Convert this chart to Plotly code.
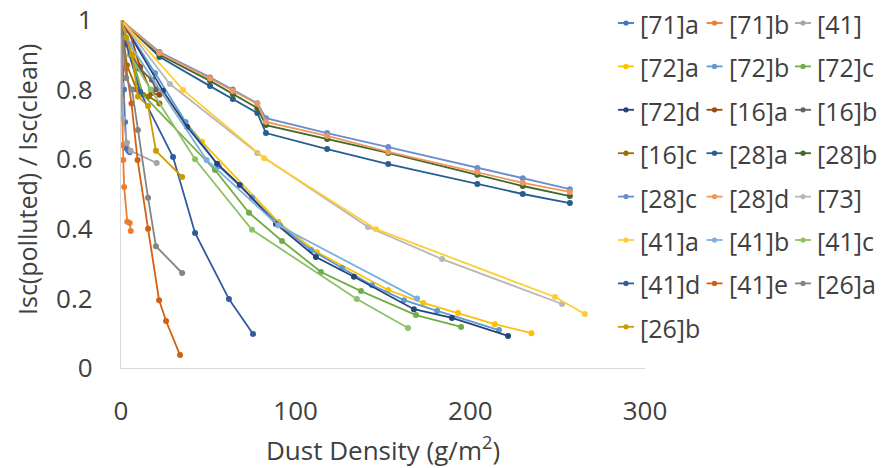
import plotly.graph_objects as go

# ---- data ----
names = ["[71]a", "[71]b", "[41]", "[72]a", "[72]b", "[72]c", "[72]d", "[16]a",
         "[16]b", "[16]c", "[28]a", "[28]b", "[28]c", "[28]d", "[73]", "[41]a",
         "[41]b", "[41]c", "[41]d", "[41]e", "[26]a", "[26]b"]

colors = ["#4472C4", "#ED7D31", "#A5A5A5", "#FFC000", "#5B9BD5", "#70AD47",
          "#264478", "#9E480E", "#636363", "#997300", "#255E91", "#43682B",
          "#698ED0", "#F1975A", "#B7B7B7", "#FFCD33", "#7CAFDD", "#8CC168",
          "#325AA1", "#D26012", "#848484", "#CC9A00"]

x_71a = [0, 0.5, 1.7, 2.3, 3.3, 4.2, 5.0]
y_71a = [1, 0.93, 0.80, 0.707, 0.631, 0.624, 0.62]
x_71b = [0, 0.3, 0.5, 0.8, 1.3, 1.8, 3.6, 5.0, 5.6]
y_71b = [1, 0.93, 0.77, 0.64, 0.598, 0.52, 0.42, 0.417, 0.394]
x_41 = [0, 0.4, 1.2, 3.4, 5.5, 20.4]
y_41 = [1, 0.813, 0.718, 0.647, 0.624, 0.589]
x_72a = [0, 10, 46.4, 90, 112.2, 153, 173, 193, 214, 235]
y_72a = [1, 0.87, 0.65, 0.42, 0.333, 0.224, 0.187, 0.158, 0.126, 0.100]
x_72b = [0, 19.5, 37, 56, 75, 91, 108.8, 126.5, 143.7, 162, 181, 216.4]
y_72b = [1, 0.848, 0.707, 0.58, 0.49, 0.41, 0.339, 0.287, 0.238, 0.195, 0.164, 0.109]
x_72c = [0, 12.6, 53.8, 73.3, 92.2, 114.5, 137.4, 168.9, 194.7]
y_72c = [1, 0.785, 0.569, 0.446, 0.365, 0.276, 0.221, 0.152, 0.118]
x_72d = [0, 24, 37.8, 55, 68, 88.7, 111.6, 133.4, 167.7, 189.5, 221.6]
y_72d = [1, 0.797, 0.693, 0.587, 0.526, 0.414, 0.319, 0.262, 0.169, 0.144, 0.092]
x_16a = [0, 4.6, 11, 17.5, 22]
y_16a = [1, 0.97, 0.865, 0.79, 0.785]
x_16b = [0, 3, 10.5, 17.7, 20]
y_16b = [1, 0.93, 0.86, 0.828, 0.80]
x_16c = [0, 3.4, 9, 16, 22]
y_16c = [1, 0.87, 0.80, 0.78, 0.76]
x_28 = [0, 22, 51, 64, 78, 83, 118, 153, 204, 230, 257]
y_28a = [1, 0.894, 0.810, 0.773, 0.733, 0.675, 0.629, 0.586, 0.529, 0.500, 0.474]
y_28b = [1, 0.900, 0.825, 0.787, 0.747, 0.698, 0.658, 0.618, 0.555, 0.523, 0.494]
y_28c = [1, 0.908, 0.835, 0.800, 0.761, 0.718, 0.675, 0.635, 0.575, 0.545, 0.514]
y_28d = [1, 0.905, 0.832, 0.796, 0.759, 0.707, 0.667, 0.621, 0.563, 0.532, 0.506]
x_73 = [0, 28, 78, 141.4, 183.8, 252.5]
y_73 = [1, 0.816, 0.618, 0.405, 0.313, 0.184]
x_41a = [0, 35.5, 82, 146, 248.5, 265.6]
y_41a = [1, 0.799, 0.603, 0.399, 0.204, 0.155]
x_41b = [0, 5, 49, 90, 169.5]
y_41b = [1, 0.93, 0.598, 0.41, 0.20]
x_41c = [0, 5, 17, 42.4, 75, 135, 164.3]
y_41c = [1, 0.90, 0.80, 0.60, 0.397, 0.198, 0.115]
x_41d = [0, 3, 11, 29.8, 42.4, 61.8, 75.6]
y_41d = [1, 0.93, 0.793, 0.606, 0.388, 0.198, 0.098]
x_41e = [0, 3, 6, 9.5, 15.5, 21.8, 25.8, 33.8]
y_41e = [1, 0.86, 0.76, 0.598, 0.40, 0.195, 0.135, 0.037]
x_26 = [0, 2.9, 6.3, 9.7, 15.5, 20, 35]
y_26a = [1, 0.833, 0.80, 0.684, 0.489, 0.35, 0.273]
y_26b = [1, 0.95, 0.90, 0.78, 0.753, 0.624, 0.549]

xs = [x_71a, x_71b, x_41, x_72a, x_72b, x_72c, x_72d, x_16a, x_16b, x_16c,
      x_28, x_28, x_28, x_28, x_73, x_41a, x_41b, x_41c, x_41d, x_41e, x_26, x_26]
ys = [y_71a, y_71b, y_41, y_72a, y_72b, y_72c, y_72d, y_16a, y_16b, y_16c,
      y_28a, y_28b, y_28c, y_28d, y_73, y_41a, y_41b, y_41c, y_41d, y_41e, y_26a, y_26b]

x_ticks = [0, 100, 200, 300]
y_ticks = [0, 0.2, 0.4, 0.6, 0.8, 1]
x_title = "Dust Density (g/m<sup>2</sup>)"
y_title = "Isc(polluted) / Isc(clean)"

FONT = "Open Sans"
TXT = "#404040"
FS = 26      # axis text
FS_LEG = 25  # legend text

# ---- layout geometry (pixels; body margin removed so figure fills the window) ----
W, H = 886, 468
ML, MT, MR, MB = 121, 20, 241, 100
PW, PH = W - ML - MR, H - MT - MB


def px2paper_x(px):
    return (px - ML) / PW


def px2paper_y(py):
    return (H - MB - py) / PH


fig = go.Figure()
for n, c, xv, yv in zip(names, colors, xs, ys):
    fig.add_trace(go.Scatter(
        x=xv, y=yv, name=n, mode="lines+markers",
        line=dict(color=c, width=1.8),
        marker=dict(color=c, size=6),
        showlegend=False,
    ))

# ---- custom 3-column legend (Excel style) ----
shapes, annos = [], []
col_x0 = [618, 706.5, 795]
row_y0, row_dy = 23, 43.4
for i, (n, c) in enumerate(zip(names, colors)):
    col, row = i % 3, i // 3
    lx = col_x0[col]
    ly = row_y0 + row * row_dy
    shapes.append(dict(type="line", xref="paper", yref="paper",
                       x0=px2paper_x(lx), x1=px2paper_x(lx + 16),
                       y0=px2paper_y(ly), y1=px2paper_y(ly),
                       line=dict(color=c, width=1.8)))
    r = 2.6
    shapes.append(dict(type="circle", xref="paper", yref="paper",
                       x0=px2paper_x(lx + 8 - r), x1=px2paper_x(lx + 8 + r),
                       y0=px2paper_y(ly + r), y1=px2paper_y(ly - r),
                       fillcolor=c, line=dict(color=c, width=0)))
    annos.append(dict(text=n, xref="paper", yref="paper",
                      x=px2paper_x(lx + 20), y=px2paper_y(ly + 1),
                      xanchor="left", yanchor="middle", showarrow=False,
                      font=dict(family=FONT, size=FS_LEG, color=TXT)))

# y-axis title placed like Excel's (slightly above the plot-area centre)
annos.append(dict(text=y_title, xref="paper", yref="paper",
                  x=px2paper_x(27), y=px2paper_y(180), textangle=-90,
                  xanchor="center", yanchor="middle", showarrow=False,
                  font=dict(family=FONT, size=25, color=TXT)))

fig.update_layout(
    width=W, height=H,
    margin=dict(l=ML, r=MR, t=MT, b=MB, autoexpand=False),
    paper_bgcolor="white", plot_bgcolor="white",
    font=dict(family=FONT, size=FS, color=TXT),
    showlegend=False,
    shapes=shapes, annotations=annos,
    xaxis=dict(
        range=[0, 300], tickvals=x_ticks, showgrid=False, zeroline=False,
        showline=True, linecolor="#D9D9D9", linewidth=1.3,
        ticks="", ticklabelstandoff=20, ticklabeloverflow="allow",
        tickfont=dict(family=FONT, size=FS, color=TXT),
        title=dict(text=x_title, standoff=14,
                   font=dict(family=FONT, size=FS, color=TXT)),
    ),
    yaxis=dict(
        range=[0, 1], tickvals=y_ticks, showgrid=False, zeroline=False,
        showline=True, linecolor="#D9D9D9", linewidth=1.3,
        ticks="", ticklabelstandoff=22, ticklabeloverflow="allow",
        tickfont=dict(family=FONT, size=FS, color=TXT),
    ),
)

fig.write_html("out.html",
               config={"displayModeBar": False},
               post_script="document.body.style.margin='0';"
                           "document.body.style.overflow='hidden';")
